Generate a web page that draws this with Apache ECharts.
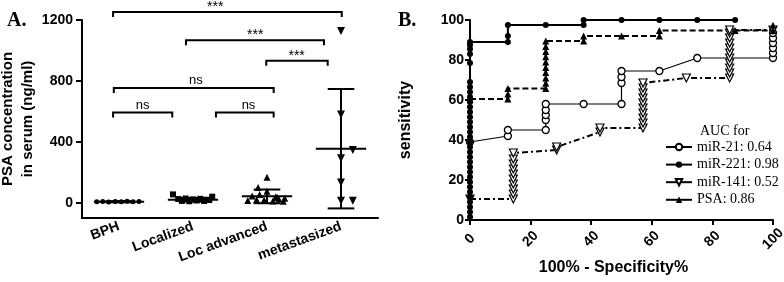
<!DOCTYPE html>
<html>
<head>
<meta charset="utf-8">
<script src="https://cdn.jsdelivr.net/npm/echarts@6/dist/echarts.min.js"></script>
<style>
  html, body { margin: 0; padding: 0; background: #fff; }
  #chart { width: 784px; height: 282px; }
</style>
</head>
<body>
<div id="chart"></div>
<script>
// ---- panel A : PSA in serum ----
var groups = ['BPH', 'Localized', 'Loc advanced', 'metastasized'];
var psaTicks = [0, 400, 800, 1200];
// points (value) and horizontal spread (offset from the group centre, in groups)
var bphVals = [6, 8, 5, 9, 7, 10, 6, 8];
var bphX = [-0.30, -0.22, -0.14, -0.05, 0.03, 0.11, 0.19, 0.27];
var locVals = [55, 25, 12, 28, 10, 22, 15, 26, 12, 20, 40, 18];
var locX = [-0.27, -0.2, -0.15, -0.1, -0.05, 0.0, 0.05, 0.1, 0.15, 0.2, 0.26, 0.22];
var advVals = [167, 100, 75, 45, 40, 15, 20, 18, 12, 25, 30, 10, 55, 35];
var advX = [0.0, -0.12, 0.0, -0.2, 0.12, -0.26, -0.14, -0.04, 0.08, 0.16, 0.24, 0.22, -0.1, 0.14];
var metVals = [1127, 580, 347, 293, 133, 13, 13];
var metX = [0, 0, 0.16, 0, 0, 0, 0.16];
var meanVals = [7, 20, 42, 355];
var sdVals = [4, 12, 45, 392];
// significance brackets
var brkFrom = [-0.08, 0.905, 1.99, -0.07, -0.08, 1.31];
var brkTo = [3.01, 2.77, 2.82, 2.09, 0.72, 2.09];
var brkY = [1253, 1067, 933, 753, 593, 593];
var brkLabelX = [1.30, 1.84, 2.40, 1.04, 0.32, 1.75];
var brkText = ['***', '***', '***', 'ns', 'ns', 'ns'];

// ---- panel B : ROC curves ----
var rocTicks = [0, 20, 40, 60, 80, 100];
var aucNames = ['miR-21: 0.64', 'miR-221: 0.98', 'miR-141: 0.52', 'PSA: 0.86'];
var mir21 = [[0, 39], [12.5, 42], [12.5, 45], [25, 45], [25, 50], [25, 52.5], [25, 55], [25, 58],
  [37.5, 58], [50, 58], [50, 68.5], [50, 71.5], [50, 74.5], [62.5, 74.5], [75, 81], [100, 81],
  [100, 83.5], [100, 86], [100, 88.5], [100, 91], [100, 93.5]];
var mir221 = [[0, 1.5], [0, 4], [0, 6.5], [0, 9], [0, 11.5], [0, 14], [0, 16.5], [0, 19], [0, 21.5],
  [0, 24], [0, 26.5], [0, 29], [0, 31.5], [0, 34], [0, 36.5], [0, 39], [0, 41.5], [0, 44],
  [0, 46.5], [0, 49], [0, 51.5], [0, 54], [0, 56.5], [0, 59], [0, 61.5], [0, 64], [0, 66.5],
  [0, 69], [0, 78.5], [0, 83], [0, 85.5], [0, 87.5], [0, 89], [12.5, 89], [12.5, 92], [12.5, 97.5],
  [25, 97.5], [37.5, 97.5], [37.5, 100], [50, 100], [62.5, 100], [75, 100], [87.5, 100]];
var mir141 = [[0, 10.5], [14.3, 10.5], [14.3, 13], [14.3, 15.5], [14.3, 18], [14.3, 20.5], [14.3, 23],
  [14.3, 25.5], [14.3, 28], [14.3, 30.5], [14.3, 33.5], [28.6, 35], [28.6, 36.5], [42.9, 44],
  [42.9, 46], [57.1, 46], [57.1, 48.5], [57.1, 51], [57.1, 53.5], [57.1, 56], [57.1, 58.5],
  [57.1, 61], [57.1, 63.5], [57.1, 66], [57.1, 68.5], [71.4, 71], [85.7, 71], [85.7, 73.5],
  [85.7, 76], [85.7, 78.5], [85.7, 81], [85.7, 83.5], [85.7, 86], [85.7, 88.5], [85.7, 91],
  [85.7, 93.5], [85.7, 95], [100, 95]];
var psaRoc = [[0, 60.5], [12.5, 60.5], [12.5, 63], [12.5, 65.8], [25, 65.8], [25, 68.4], [25, 71],
  [25, 73.7], [25, 76.3], [25, 79], [25, 81.6], [25, 84.2], [25, 86.8], [25, 89.5], [37.5, 89.5],
  [37.5, 92], [50, 92], [62.5, 92], [62.5, 94.7], [87.5, 94.7], [100, 94.7], [100, 97.4]];

var sans = 'Liberation Sans, Arial, sans-serif';
var serif = 'Liberation Serif, Times New Roman, serif';

function pts(vals, offs, i) {
  return vals.map(function (v, k) { return [i + offs[k], v]; });
}

function renderMeanSd(params, api) {
  var i = api.value(0), m = api.value(1), s = api.value(2);
  var mid = api.coord([i, m]);
  var hi = api.coord([i, m + s]);
  var lo = api.coord([i, m - s]);
  var mw = api.size([0.34, 0])[0];
  var cw = api.size([0.18, 0])[0];
  var st = { stroke: '#000', lineWidth: 2 };
  return {
    type: 'group',
    children: [
      { type: 'line', shape: { x1: hi[0], y1: hi[1], x2: lo[0], y2: lo[1] }, style: st },
      { type: 'line', shape: { x1: mid[0] - mw, y1: mid[1], x2: mid[0] + mw, y2: mid[1] }, style: st },
      { type: 'line', shape: { x1: hi[0] - cw, y1: hi[1], x2: hi[0] + cw, y2: hi[1] }, style: st },
      { type: 'line', shape: { x1: lo[0] - cw, y1: lo[1], x2: lo[0] + cw, y2: lo[1] }, style: st }
    ]
  };
}

function renderBracket(params, api) {
  var a = api.coord([api.value(0), api.value(2)]);
  var b = api.coord([api.value(1), api.value(2)]);
  var t = api.coord([api.value(3), api.value(2)]);
  var txt = brkText[params.dataIndex];
  var star = txt === '***';
  return {
    type: 'group',
    children: [
      { type: 'polyline',
        shape: { points: [[a[0], a[1] + 5], [a[0], a[1]], [b[0], b[1]], [b[0], b[1] + 5]] },
        style: { stroke: '#000', lineWidth: 2, fill: null } },
      { type: 'text',
        style: { text: txt, x: t[0], y: a[1] + (star ? 2 : -1),
          textAlign: 'center', textVerticalAlign: 'bottom', align: 'center', verticalAlign: 'bottom',
          font: (star ? '14px ' : '13px ') + sans, fill: '#000' } }
    ]
  };
}

var axisCommon = {
  axisLine: { onZero: false, lineStyle: { color: '#000', width: 2 } },
  axisTick: { length: 5, lineStyle: { color: '#000', width: 2 } },
  axisLabel: { color: '#000', fontFamily: sans, fontWeight: 'bold', fontSize: 14 },
  splitLine: { show: false }
};

function ax(extra) {
  var o = JSON.parse(JSON.stringify(axisCommon));
  for (var k in extra) {
    if (typeof extra[k] === 'object' && o[k] && !Array.isArray(extra[k])) {
      for (var j in extra[k]) o[k][j] = extra[k][j];
    } else {
      o[k] = extra[k];
    }
  }
  return o;
}

function plain(v) { return String(v); }

var chart = echarts.init(document.getElementById('chart'));
chart.setOption({
  animation: false,
  backgroundColor: '#fff',
  title: [
    { text: 'A.', left: 2, top: 6, textStyle: { fontFamily: serif, fontWeight: 'bold', fontSize: 20, color: '#000' } },
    { text: 'B.', left: 393, top: 6, textStyle: { fontFamily: serif, fontWeight: 'bold', fontSize: 20, color: '#000' } },
    { text: 'AUC for', left: 695, top: 119, textStyle: { fontFamily: serif, fontWeight: 'normal', fontSize: 14, color: '#000' } }
  ],
  legend: {
    data: aucNames,
    orient: 'vertical',
    left: 660,
    top: 135,
    itemWidth: 26,
    itemHeight: 8,
    itemGap: 3.6,
    textStyle: { fontFamily: serif, fontSize: 14, color: '#000', lineHeight: 14 },
    lineStyle: { type: 'solid' }
  },
  grid: [
    { left: 82, right: 406, top: 20, bottom: 64, outerBoundsMode: 'none' },
    { left: 470, right: 11, top: 20, bottom: 62, outerBoundsMode: 'none' }
  ],
  xAxis: [
    ax({ type: 'category', gridIndex: 0, data: groups, boundaryGap: true,
      axisTick: { alignWithLabel: true, length: 6 },
      axisLabel: { rotate: 20, margin: 8, interval: 0 } }),
    { type: 'value', gridIndex: 0, min: -0.5, max: 3.5, show: false },
    ax({ type: 'value', gridIndex: 1, min: 0, max: 100, interval: 20,
      name: '100% - Specificity%', nameLocation: 'middle', nameGap: 39,
      nameTextStyle: { color: '#000', fontFamily: sans, fontWeight: 'bold', fontSize: 16, padding: [0, 16, 0, 0] },
      axisLabel: { rotate: 45, margin: 19, align: 'center', verticalAlign: 'middle', formatter: plain } })
  ],
  yAxis: [
    ax({ type: 'value', gridIndex: 0, min: -100, max: 1200,
      name: 'PSA concentration\nin serum (ng/ml)', nameLocation: 'middle', nameGap: 31,
      nameTextStyle: { color: '#000', fontFamily: sans, fontWeight: 'bold', fontSize: 15, lineHeight: 20 },
      axisTick: { customValues: psaTicks, length: 6 },
      axisLabel: { customValues: psaTicks, margin: 9, formatter: plain } }),
    ax({ type: 'value', gridIndex: 1, min: 0, max: 100, interval: 20,
      name: 'sensitivity', nameLocation: 'middle', nameGap: 56,
      nameTextStyle: { color: '#000', fontFamily: sans, fontWeight: 'bold', fontSize: 16 },
      axisLabel: { margin: 6, formatter: plain } })
  ],
  series: [
    { type: 'scatter', xAxisIndex: 1, yAxisIndex: 0, data: pts(bphVals, bphX, 0),
      symbol: 'circle', symbolSize: 5, itemStyle: { color: '#000', opacity: 1 }, silent: true },
    { type: 'scatter', xAxisIndex: 1, yAxisIndex: 0, data: pts(locVals, locX, 1),
      symbol: 'rect', symbolSize: 6, itemStyle: { color: '#000', opacity: 1 }, silent: true },
    { type: 'scatter', xAxisIndex: 1, yAxisIndex: 0, data: pts(advVals, advX, 2),
      symbol: 'triangle', symbolSize: 7, itemStyle: { color: '#000', opacity: 1 }, silent: true },
    { type: 'scatter', xAxisIndex: 1, yAxisIndex: 0, data: pts(metVals, metX, 3),
      symbol: 'triangle', symbolRotate: 180, symbolSize: 8, itemStyle: { color: '#000', opacity: 1 }, silent: true },
    { type: 'custom', xAxisIndex: 1, yAxisIndex: 0, renderItem: renderMeanSd, silent: true, z: 3,
      data: groups.map(function (g, i) { return [i, meanVals[i], sdVals[i]]; }) },
    { type: 'custom', xAxisIndex: 1, yAxisIndex: 0, renderItem: renderBracket, silent: true, clip: false,
      data: brkFrom.map(function (f, i) { return [f, brkTo[i], brkY[i], brkLabelX[i]]; }) },

    { name: aucNames[0], type: 'line', xAxisIndex: 2, yAxisIndex: 1, data: mir21, clip: false,
      symbol: 'circle', symbolSize: 7, showAllSymbol: true,
      lineStyle: { color: '#000', width: 1.2 },
      itemStyle: { color: '#fff', borderColor: '#000', borderWidth: 1.3 } },
    { name: aucNames[2], type: 'line', xAxisIndex: 2, yAxisIndex: 1, data: mir141, clip: false,
      symbol: 'triangle', symbolRotate: 180, symbolSize: 8, showAllSymbol: true,
      lineStyle: { color: '#000', width: 2, type: [6, 3, 2, 3] },
      itemStyle: { color: '#fff', borderColor: '#000', borderWidth: 1.2 } },
    { name: aucNames[3], type: 'line', xAxisIndex: 2, yAxisIndex: 1, data: psaRoc, clip: false,
      symbol: 'triangle', symbolSize: 7, showAllSymbol: true,
      lineStyle: { color: '#000', width: 2, type: [6, 3] },
      itemStyle: { color: '#000' } },
    { name: aucNames[1], type: 'line', xAxisIndex: 2, yAxisIndex: 1, data: mir221, clip: false,
      symbol: 'circle', symbolSize: 6, showAllSymbol: true,
      lineStyle: { color: '#000', width: 2 },
      itemStyle: { color: '#000' } }
  ]
});
</script>
</body>
</html>
